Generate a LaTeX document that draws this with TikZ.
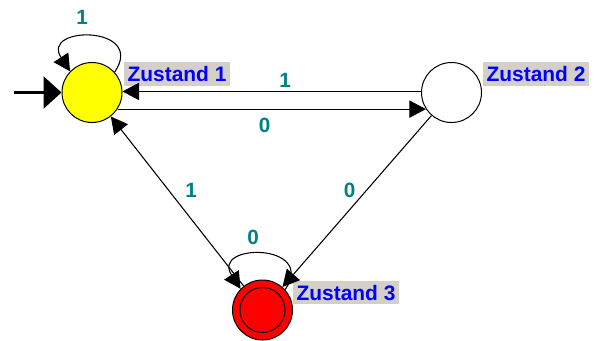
\documentclass[tikz,border=0pt]{standalone}
\usepackage{fontspec}
\setsansfont{Liberation Sans}
\usetikzlibrary{arrows.meta}
\definecolor{labbg}{RGB}{212,208,200}
\definecolor{lblue}{RGB}{0,0,255}
\definecolor{lteal}{RGB}{0,128,128}
\definecolor{sfill1}{RGB}{255,255,0}
\definecolor{sfill3}{RGB}{255,0,0}
\tikzset{
  state/.style={circle, draw=black, line width=0.75pt, minimum size=45pt, inner sep=0pt},
  statelab/.style={fill=labbg, text=lblue, font=\sffamily\bfseries\fontsize{15.7}{18}\selectfont,
    inner xsep=2.5pt, inner ysep=3.3pt, text height=11.3pt, text depth=0pt, anchor=west},
  edgelab/.style={text=lteal, font=\sffamily\bfseries\fontsize{15.5}{18}\selectfont, inner sep=0pt},
  arr/.style={line width=0.8pt, -{Triangle[length=12.5pt,width=13pt]}},
  initarr/.style={line width=2pt, -{Triangle[length=13.5pt,width=24pt]}},
}
\begin{document}
\begin{tikzpicture}[x=0.75pt,y=-0.75pt]
\useasboundingbox (0,0) rectangle (598,340);
% states
\node[state, fill=sfill1] (s1) at (92,92.5) {};
\node[state, fill=white] (s2) at (451.5,92.5) {};
\node[state, fill=sfill3] (s3) at (262.5,310) {};
\draw[line width=0.75pt] (s3.center) circle[radius=22.5];
% state labels
\node[statelab] (l1) at (124,74) {Zustand 1};
\node[statelab] (l2) at (483,74) {Zustand 2};
\node[statelab] (l3) at (293,292.5) {Zustand 3};
% initial arrow
\coordinate (init) at (14,92.5);
\draw[initarr] (init) -- (s1);
% 2 -> 1 and 1 -> 2
\draw[arr] (s2.178) -- (s1.2);
\draw[arr] (s1.-33) -- (s2.213);
% diagonals
\draw[arr] (s2) -- (s3);
\draw[arr] (s3) -- (s1);
% loops
\draw[arr] (s1.42) .. controls +(32,-47) and +(-30,-46) .. (s1.136);
\draw[arr] (s3.42) .. controls +(32,-47) and +(-30,-46) .. (s3.136);
% edge labels
\node[edgelab] (e11) at (82,17.5) {1};
\node[edgelab] (e21) at (285,80) {1};
\node[edgelab] (e12) at (264.5,125) {0};
\node[edgelab] (e31) at (191,190) {1};
\node[edgelab] (e23) at (349.5,190) {0};
\node[edgelab] (e33) at (253,237) {0};
\end{tikzpicture}
\end{document}
